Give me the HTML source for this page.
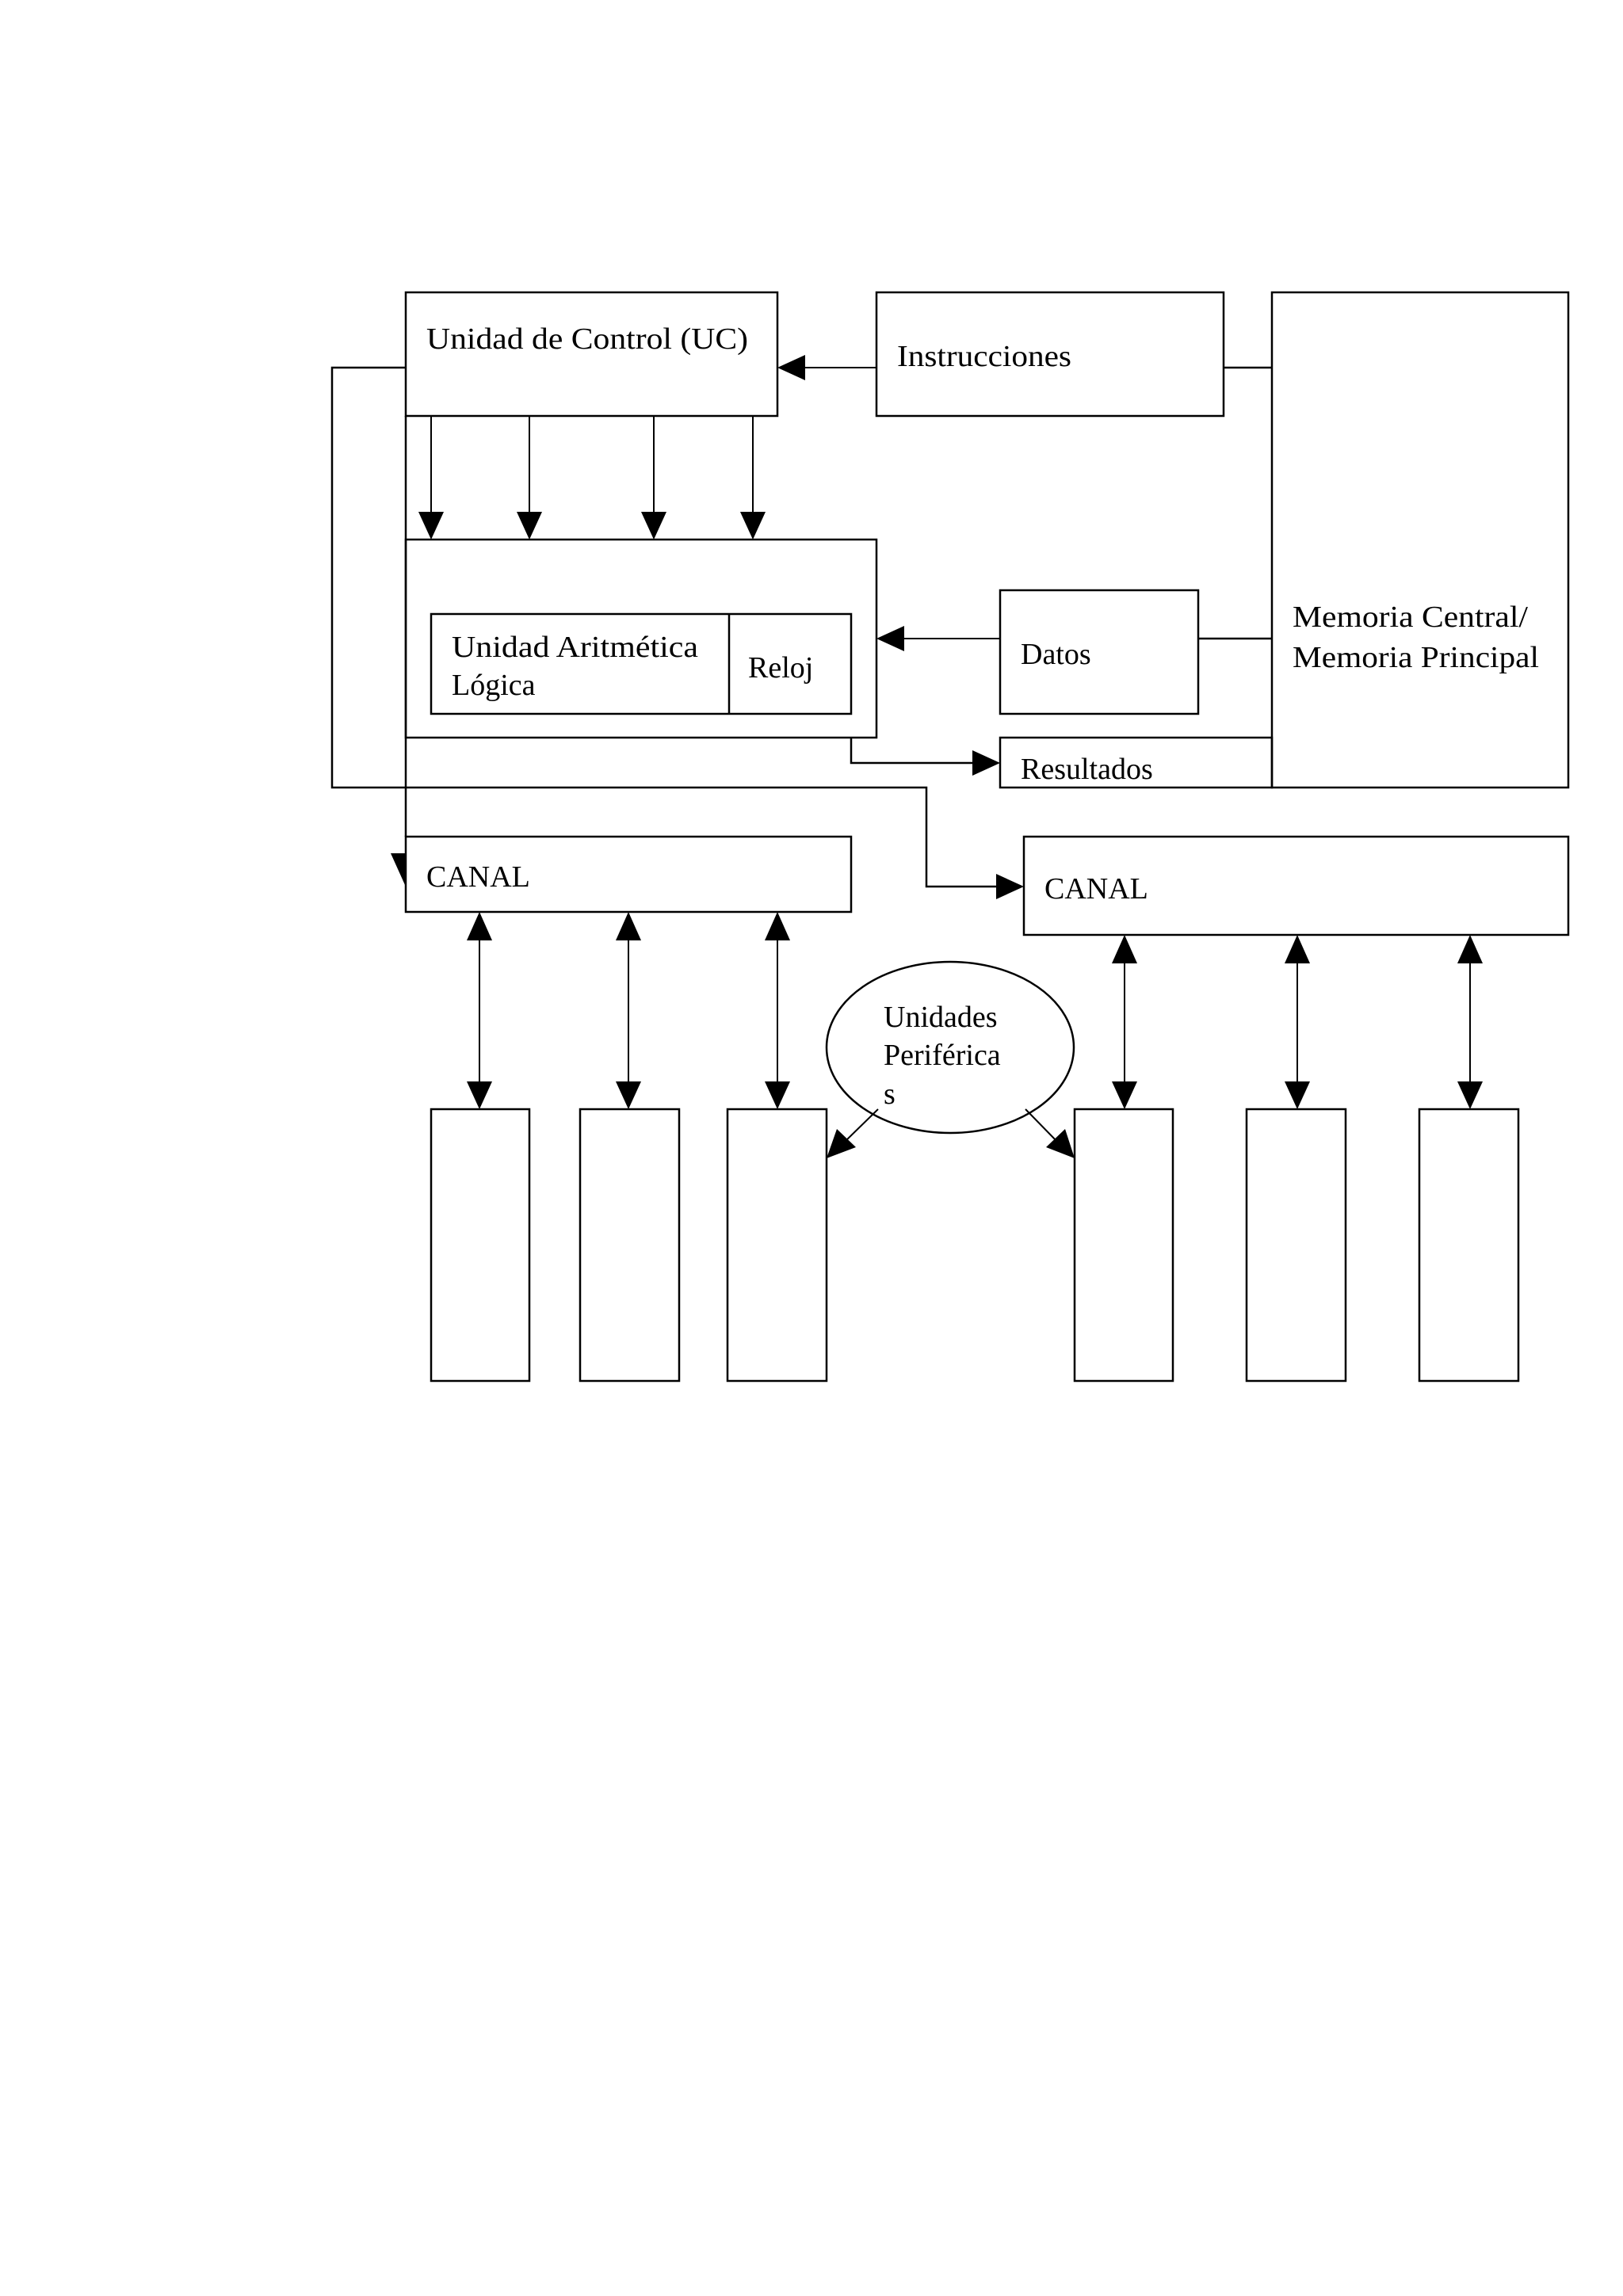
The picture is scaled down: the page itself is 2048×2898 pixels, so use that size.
<!DOCTYPE html>
<html><head><meta charset="utf-8"><style>html,body{margin:0;padding:0;background:#fff}svg{display:block}</style></head>
<body>
<svg width="2048" height="2898" viewBox="0 0 2048 2898" xmlns="http://www.w3.org/2000/svg">
<defs>
<marker id="a" markerWidth="12" markerHeight="12" refX="11" refY="6" orient="auto-start-reverse" markerUnits="userSpaceOnUse" viewBox="0 0 12 12"><path d="M0,0 L12,6 L0,12 Z" fill="#000"/></marker>
</defs>
<g fill="none" stroke="#000" stroke-width="2.5">
<rect x="512" y="369" width="469" height="156"/>
<rect x="1106" y="369" width="438" height="156"/>
<rect x="1605" y="369" width="374" height="625"/>
<rect x="512" y="681" width="594" height="250"/>
<rect x="544" y="775" width="530" height="126"/>
<line x1="920" y1="775" x2="920" y2="901"/>
<rect x="1262" y="745" width="250" height="156"/>
<rect x="1262" y="931" width="343" height="63"/>
<rect x="512" y="1056" width="562" height="95"/>
<rect x="1292" y="1056" width="687" height="124"/>
<rect x="544" y="1400" width="124" height="343"/>
<rect x="732" y="1400" width="125" height="343"/>
<rect x="918" y="1400" width="125" height="343"/>
<rect x="1356" y="1400" width="124" height="343"/>
<rect x="1573" y="1400" width="125" height="343"/>
<rect x="1791" y="1400" width="125" height="343"/>
<ellipse cx="1199" cy="1322" rx="156" ry="108"/>
<!-- lines -->
<line x1="1544" y1="464" x2="1605" y2="464"/>
<line x1="1512" y1="806" x2="1605" y2="806"/>
<polyline points="512,464 419,464 419,994 1169,994 1169,1119 1258,1119"/>
<line x1="512" y1="525" x2="512" y2="1056"/>
<polyline points="1074,931 1074,963 1230,963"/>
</g>
<g stroke="#000" stroke-width="2">
<line x1="1106" y1="464" x2="1015" y2="464"/>
<line x1="1262" y1="806" x2="1140" y2="806"/>
<line x1="544" y1="525" x2="544" y2="647"/>
<line x1="668" y1="525" x2="668" y2="647"/>
<line x1="825" y1="525" x2="825" y2="647"/>
<line x1="950" y1="525" x2="950" y2="647"/>
<line x1="605" y1="1185" x2="605" y2="1366"/>
<line x1="793" y1="1185" x2="793" y2="1366"/>
<line x1="981" y1="1185" x2="981" y2="1366"/>
<line x1="1419" y1="1214" x2="1419" y2="1366"/>
<line x1="1637" y1="1214" x2="1637" y2="1366"/>
<line x1="1855" y1="1214" x2="1855" y2="1366"/>
<line x1="1108" y1="1400" x2="1065" y2="1442"/>
<line x1="1294" y1="1400" x2="1335" y2="1442"/>
</g>
<g fill="#000">
<path d="M981,464 L1016,448 L1016,480 Z"/>
<path d="M1106,806 L1141,790 L1141,822 Z"/>
<path d="M1262,963 L1227,947 L1227,979 Z"/>
<path d="M1292,1119 L1257,1103 L1257,1135 Z"/>
<path d="M544,681 L528,646 L560,646 Z"/>
<path d="M668,681 L652,646 L684,646 Z"/>
<path d="M825,681 L809,646 L841,646 Z"/>
<path d="M950,681 L934,646 L966,646 Z"/>
<path d="M493,1077 L511,1077 L511,1117 Z"/>
<g id="dl">
<path d="M605,1151 L589,1187 L621,1187 Z"/><path d="M605,1400 L589,1365 L621,1365 Z"/>
<path d="M793,1151 L777,1187 L809,1187 Z"/><path d="M793,1400 L777,1365 L809,1365 Z"/>
<path d="M981,1151 L965,1187 L997,1187 Z"/><path d="M981,1400 L965,1365 L997,1365 Z"/>
<path d="M1419,1180 L1403,1216 L1435,1216 Z"/><path d="M1419,1400 L1403,1365 L1435,1365 Z"/>
<path d="M1637,1180 L1621,1216 L1653,1216 Z"/><path d="M1637,1400 L1621,1365 L1653,1365 Z"/>
<path d="M1855,1180 L1839,1216 L1871,1216 Z"/><path d="M1855,1400 L1839,1365 L1871,1365 Z"/>
</g>
<path d="M1043,1462 L1056,1425 L1080,1448 Z"/>
<path d="M1356,1462 L1320,1448 L1344,1425 Z"/>
</g>
<g font-family="Liberation Serif, serif" font-size="38" fill="#000">
<text x="538" y="440" textLength="406" lengthAdjust="spacingAndGlyphs">Unidad de Control (UC)</text>
<text x="1132" y="462" textLength="220" lengthAdjust="spacingAndGlyphs">Instrucciones</text>
<text x="570" y="829" textLength="311" lengthAdjust="spacingAndGlyphs">Unidad Aritmética</text>
<text x="570" y="877">Lógica</text>
<text x="944" y="855">Reloj</text>
<text x="1288" y="838">Datos</text>
<text x="1631" y="791" textLength="297" lengthAdjust="spacingAndGlyphs">Memoria Central/</text>
<text x="1631" y="842" textLength="311" lengthAdjust="spacingAndGlyphs">Memoria Principal</text>
<text x="1288" y="983">Resultados</text>
<text x="538" y="1119">CANAL</text>
<text x="1318" y="1134">CANAL</text>
<text x="1115" y="1296">Unidades</text>
<text x="1115" y="1344">Periférica</text>
<text x="1115" y="1393">s</text>
</g>
</svg>
</body></html>
